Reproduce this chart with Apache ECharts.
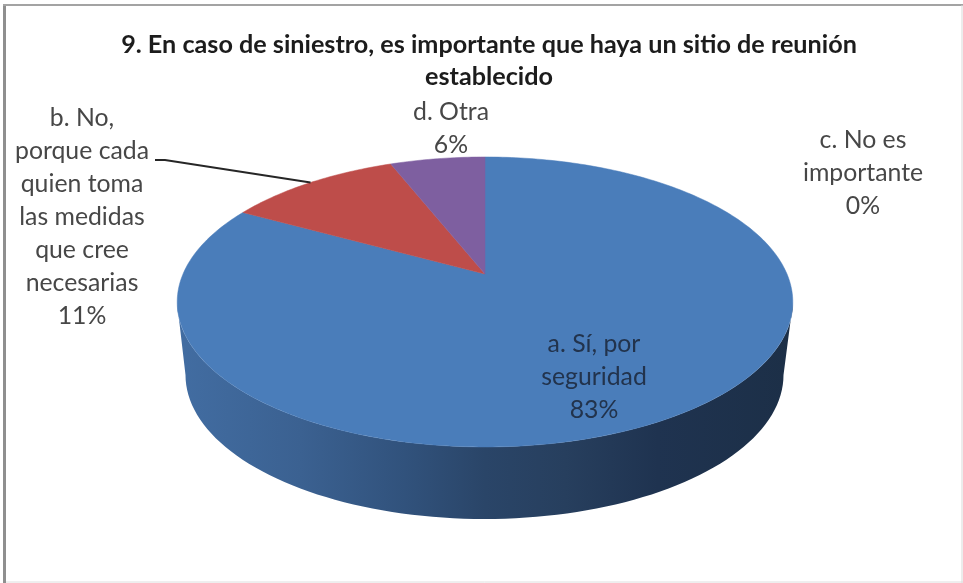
<!DOCTYPE html>
<html lang="es">
<head>
<meta charset="utf-8">
<title>Sitio de reunión</title>
<style>
  html, body { margin: 0; padding: 0; background: #ffffff; }
  #chart { width: 963px; height: 583px; }
</style>
<script src="https://cdn.jsdelivr.net/npm/echarts@6/dist/echarts.min.js"></script>
</head>
<body>
<div id="chart"></div>
<script>
// Survey answers, clockwise from twelve o'clock.
const categories = ['a. Sí, por seguridad', 'b. No, porque cada quien toma las medidas que cree necesarias', 'c. No es importante', 'd. Otra'];
const shares = [83, 11, 0, 6];
const wrappedNames = ['a. Sí, por\nseguridad', 'b. No,\nporque cada\nquien toma\nlas medidas\nque cree\nnecesarias', 'c. No es\nimportante', 'd. Otra'];
const sliceColors = ['#4a7dba', '#be4d4a', '#9bbb59', '#7e5fa0'];
const chartTitle = '9. En caso de siniestro, es importante que haya un sitio de reunión\nestablecido';

// Centre of each data label on the canvas.
const labelCentres = [[594, 377], [82, 217], [863, 173], [451, 129]];
const labelInks = ['#22334c', '#474747', '#474747', '#474747'];

// Perspective disc: a unit circle seen from the front and above.
const disc = { cx: 485, cy: 274, sx: 302, sy: 139.6, k: 0.193 };
const FONT = 'Lato, "Open Sans", sans-serif';
const total = shares.reduce((a, b) => a + b, 0);

function project(theta) {
  const u = Math.sin(theta), v = Math.cos(theta), w = 1 + disc.k * v;
  return [disc.cx + disc.sx * u / w, disc.cy - disc.sy * v / w];
}
function angleAt(cumulative) {
  return cumulative / total * Math.PI * 2;
}
function cumulativeBefore(i) {
  return shares.slice(0, i).reduce((a, b) => a + b, 0);
}

// Outline of the side wall: front half of the rim, then the same rim
// shifted down and pulled in slightly for the base.
function wallOutline() {
  const pts = [];
  const rim = { cx: disc.cx, cy: 302, rx: 308, ry: 145 };
  const base = { cx: disc.cx - 0.5, cy: 375, rx: 299, ry: 144 };
  for (let d = 180; d >= 0; d -= 2) {
    const a = d * Math.PI / 180;
    pts.push([rim.cx + rim.rx * Math.cos(a), rim.cy + rim.ry * Math.sin(a)]);
  }
  for (let d = 0; d <= 180; d += 2) {
    const a = d * Math.PI / 180;
    pts.push([base.cx + base.rx * Math.cos(a), base.cy + base.ry * Math.sin(a)]);
  }
  return pts;
}

const wallGradient = new echarts.graphic.LinearGradient(0, 0, 1, 0, [
  { offset: 0, color: '#426da2' },
  { offset: 0.2, color: '#3b6191' },
  { offset: 0.37, color: '#31527c' },
  { offset: 0.5, color: '#2a4568' },
  { offset: 0.63, color: '#273f5e' },
  { offset: 0.78, color: '#1f3350' },
  { offset: 1, color: '#1c2f47' }
]);

const option = {
  animation: false,
  backgroundColor: '#ffffff',
  title: {
    text: chartTitle,
    left: 484,
    top: 24,
    textAlign: 'center',
    textStyle: { fontFamily: FONT, fontSize: 25.2, fontWeight: 'bold', color: '#1c1c1c', lineHeight: 32 }
  },
  graphic: [
    // Frame: heavier on the left and top, faint on the right and bottom.
    { type: 'line', shape: { x1: 4.5, y1: 4, x2: 4.5, y2: 583 }, style: { stroke: '#8f8f8f', lineWidth: 3 } },
    { type: 'line', shape: { x1: 3, y1: 5, x2: 963, y2: 5 }, style: { stroke: '#a3a3a3', lineWidth: 2 } },
    { type: 'line', shape: { x1: 962, y1: 5, x2: 962, y2: 583 }, style: { stroke: '#d9d9d9', lineWidth: 1 } },
    { type: 'line', shape: { x1: 6, y1: 582, x2: 963, y2: 582 }, style: { stroke: '#dedede', lineWidth: 1 } }
  ],
  series: [
    {
      type: 'custom',
      name: 'Pared',
      coordinateSystem: 'none',
      silent: true,
      z: 1,
      data: [0],
      renderItem: () => ({
        type: 'polygon',
        shape: { points: wallOutline() },
        style: { fill: wallGradient }
      })
    },
    {
      type: 'custom',
      name: 'Respuestas',
      coordinateSystem: 'none',
      silent: true,
      z: 2,
      data: shares.map((v, i) => ({ name: categories[i], value: [v, i] })),
      renderItem: (params, api) => {
        const value = api.value(0), i = api.value(1);
        if (!value) return null;
        const from = angleAt(cumulativeBefore(i));
        const to = angleAt(cumulativeBefore(i) + value);
        const pts = [[disc.cx, disc.cy]];
        const steps = Math.max(2, Math.ceil((to - from) * 180 / Math.PI));
        for (let s = 0; s <= steps; s++) pts.push(project(from + (to - from) * s / steps));
        return {
          type: 'polygon',
          shape: { points: pts },
          style: { fill: sliceColors[i], stroke: sliceColors[i], lineWidth: 0.5 }
        };
      }
    },
    {
      type: 'custom',
      name: 'Guía',
      coordinateSystem: 'none',
      silent: true,
      z: 3,
      data: [1],
      renderItem: (params, api) => {
        const i = api.value(0);
        const end = project(angleAt(cumulativeBefore(i) + shares[i] / 2));
        return {
          type: 'polyline',
          shape: { points: [[155, 160], [165, 160], end] },
          style: { fill: 'none', stroke: '#262626', lineWidth: 2 }
        };
      }
    },
    {
      type: 'custom',
      name: 'Etiquetas',
      coordinateSystem: 'none',
      silent: true,
      z: 4,
      data: shares.map((v, i) => [v, i]),
      renderItem: (params, api) => {
        const value = api.value(0), i = api.value(1);
        return {
          type: 'text',
          style: {
            text: wrappedNames[i] + '\n' + value + '%',
            x: labelCentres[i][0],
            y: labelCentres[i][1],
            align: 'center',
            verticalAlign: 'middle',
            font: '24.8px ' + FONT,
            lineHeight: 33,
            fill: labelInks[i]
          }
        };
      }
    }
  ]
};

echarts.init(document.getElementById('chart'), null, { renderer: 'canvas' }).setOption(option);
</script>
</body>
</html>
